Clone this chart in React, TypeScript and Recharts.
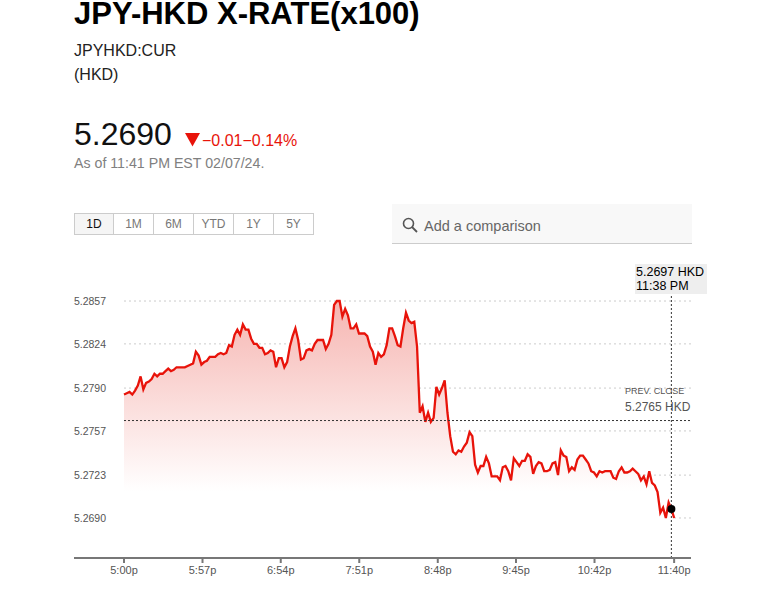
import { ComposedChart, Area, XAxis, YAxis, CartesianGrid, ReferenceLine, ReferenceDot } from 'recharts'

const rates = [
  5.2785, 5.2786, 5.2787, 5.2785, 5.2788, 5.2792, 5.2799, 5.2789, 5.2794, 5.2795,
  5.2797, 5.2801, 5.2799, 5.2801, 5.2801, 5.2803, 5.2805, 5.2803, 5.2804, 5.2806,
  5.2806, 5.2806, 5.2806, 5.2807, 5.2808, 5.2809, 5.2818, 5.2815, 5.2808, 5.2810,
  5.2811, 5.2814, 5.2814, 5.2814, 5.2816, 5.2817, 5.2816, 5.2817, 5.2823, 5.2822,
  5.2831, 5.2835, 5.2831, 5.2839, 5.2835, 5.2835, 5.2828, 5.2824, 5.2824, 5.2821,
  5.2821, 5.2816, 5.2817, 5.2819, 5.2818, 5.2806, 5.2813, 5.2813, 5.2806, 5.2810,
  5.2822, 5.2830, 5.2836, 5.2827, 5.2812, 5.2813, 5.2819, 5.2820, 5.2819, 5.2824,
  5.2827, 5.2827, 5.2827, 5.2820, 5.2824, 5.2831, 5.2854, 5.2857, 5.2857, 5.2845,
  5.2851, 5.2846, 5.2836, 5.2836, 5.2839, 5.2832, 5.2832, 5.2832, 5.2830, 5.2822,
  5.2818, 5.2808, 5.2817, 5.2814, 5.2816, 5.2823, 5.2836, 5.2836, 5.2830, 5.2823,
  5.2822, 5.2836, 5.2848, 5.2842, 5.2840, 5.2841, 5.2822, 5.2771, 5.2776, 5.2764,
  5.2771, 5.2764, 5.2767, 5.2791, 5.2785, 5.2790, 5.2796, 5.2771, 5.2753, 5.2741,
  5.2739, 5.2742, 5.2741, 5.2745, 5.2748, 5.2756, 5.2753, 5.2731, 5.2725, 5.2730,
  5.2730, 5.2737, 5.2732, 5.2722, 5.2722, 5.2722, 5.2719, 5.2729, 5.2730, 5.2726,
  5.2719, 5.2736, 5.2733, 5.2730, 5.2734, 5.2734, 5.2739, 5.2737, 5.2724, 5.2730,
  5.2733, 5.2732, 5.2726, 5.2726, 5.2727, 5.2732, 5.2733, 5.2723, 5.2742, 5.2738,
  5.2737, 5.2726, 5.2729, 5.2727, 5.2735, 5.2738, 5.2738, 5.2735, 5.2732, 5.2726,
  5.2725, 5.2722, 5.2726, 5.2725, 5.2726, 5.2726, 5.2726, 5.2721, 5.2720, 5.2726,
  5.2729, 5.2725, 5.2725, 5.2726, 5.2728, 5.2726, 5.2724, 5.2719, 5.2722, 5.2716,
  5.2726, 5.2717, 5.2715, 5.2710, 5.2694, 5.2698, 5.2690, 5.2702, 5.2697, 5.2690,
]

const yTicks = [5.269, 5.2723, 5.2757, 5.279, 5.2824, 5.2857]
const xTicks = [0, 28.4, 56.7, 85.1, 113.5, 141.8, 170.2, 199]
const xLabels = ['5:00p', '5:57p', '6:54p', '7:51p', '8:48p', '9:45p', '10:42p', '11:40p']
const ranges = ['1D', '1M', '6M', 'YTD', '1Y', '5Y']

const prevClose = 5.2765
const hoverIndex = 198
const hoverRate = 5.2697

const data = rates.map((rate, i) => ({ sample: i, rate }))

const FONT = '"Liberation Sans", Arial, sans-serif'

const text = (left: number, top: number, fontSize: number, color: string, extra = {}) => ({
  position: 'absolute' as const,
  left,
  top,
  fontSize,
  color,
  lineHeight: '20px',
  whiteSpace: 'nowrap' as const,
  ...extra,
})

export default function App() {
  return (
    <div style={{ position: 'absolute', left: 0, top: 0, width: 777, height: 600, overflow: 'hidden', background: '#fff', fontFamily: FONT }}>
      <div style={text(74, 0, 31, '#000', { fontWeight: 700, lineHeight: '27px' })}>JPY-HKD X-RATE(x100)</div>
      <div style={text(74, 41, 16, '#222')}>JPYHKD:CUR</div>
      <div style={text(74, 65, 16, '#222')}>(HKD)</div>
      <div style={text(74, 124, 32, '#111')}>5.2690</div>
      <svg style={{ position: 'absolute', left: 185, top: 133 }} width={16} height={14}>
        <path d="M0 0 L15 0 L7.5 13.5 Z" fill="#e8130a" />
      </svg>
      <div style={text(202, 131, 16, '#e8130a')}>−0.01−0.14%</div>
      <div style={text(74, 153, 14.2, '#808080')}>As of 11:41 PM EST 02/07/24.</div>

      <div style={{ position: 'absolute', left: 74, top: 213, display: 'flex' }}>
        {ranges.map((r, i) => (
          <div
            key={r}
            style={{
              width: i === 0 ? 38 : 39,
              height: 20,
              lineHeight: '21px',
              textAlign: 'center',
              fontSize: 12,
              border: '1px solid #ccc',
              borderLeft: i === 0 ? '1px solid #ccc' : 'none',
              background: i === 0 ? '#f5f5f5' : '#fff',
              color: i === 0 ? '#111' : '#777',
            }}
          >
            {r}
          </div>
        ))}
      </div>

      <div style={{ position: 'absolute', left: 392, top: 204, width: 300, height: 39, background: '#f8f8f8', borderBottom: '1px solid #ccc' }}>
        <svg style={{ position: 'absolute', left: 10, top: 13 }} width={16} height={16}>
          <circle cx={6.5} cy={6.5} r={5} fill="none" stroke="#555" strokeWidth={1.6} />
          <path d="M10 10 L15 15" stroke="#555" strokeWidth={1.8} />
        </svg>
        <div style={text(32, 12, 14.5, '#666')}>Add a comparison</div>
      </div>

      <div style={{ position: 'absolute', left: 74, top: 557, width: 50, height: 2, background: '#777' }} />

      <div style={{ position: 'absolute', left: 0, top: 0 }}>
        <ComposedChart
          width={777}
          height={600}
          data={data}
          margin={{ top: 294, right: 86, bottom: 0, left: 74 }}
        >
          <defs>
            <linearGradient id="rateFill" x1="0" y1="0" x2="0" y2="1">
              <stop offset="0%" stopColor="#f6b5b1" />
              <stop offset="74%" stopColor="#ffffff" />
            </linearGradient>
          </defs>
          <CartesianGrid vertical={false} syncWithTicks stroke="#ccc" strokeDasharray="2 3" />
          <XAxis
            dataKey="sample"
            type="number"
            domain={[0, 205.1]}
            ticks={xTicks}
            interval={0}
            height={42}
            stroke="#777"
            strokeWidth={2}
            tickSize={5}
            tickMargin={3}
            tick={{ fontSize: 11, fill: '#555', fontFamily: FONT }}
            tickFormatter={(v: number) => xLabels[xTicks.indexOf(v)]}
          />
          <YAxis
            type="number"
            domain={[5.26592, 5.28624]}
            ticks={yTicks}
            interval={0}
            width={50}
            axisLine={false}
            tickLine={false}
            tickSize={0}
            tickMargin={18}
            tick={{ fontSize: 10.5, fill: '#555', fontFamily: FONT }}
            tickFormatter={(v: number) => v.toFixed(4)}
          />
          <Area
            dataKey="rate"
            type="linear"
            stroke="#e8130a"
            strokeWidth={2.3}
            fill="url(#rateFill)"
            fillOpacity={1}
            dot={false}
            isAnimationActive={false}
          />
          <ReferenceLine y={prevClose} stroke="#333" strokeDasharray="2 2" />
          <ReferenceLine x={hoverIndex} stroke="#333" strokeDasharray="2 2" />
          <ReferenceDot x={hoverIndex} y={hoverRate} r={4} fill="#000" stroke="none" />
        </ComposedChart>
      </div>

      <div style={text(625, 381, 9, '#555')}>PREV. CLOSE</div>
      <div style={text(625, 397, 12, '#555')}>5.2765 HKD</div>

      <div style={{ position: 'absolute', left: 635, top: 264, width: 72, height: 30, background: '#eee', color: '#000', fontSize: 12.5, lineHeight: '14px', paddingLeft: 1, paddingTop: 1, boxSizing: 'border-box' }}>
        5.2697 HKD
        <br />
        11:38 PM
      </div>
    </div>
  )
}
